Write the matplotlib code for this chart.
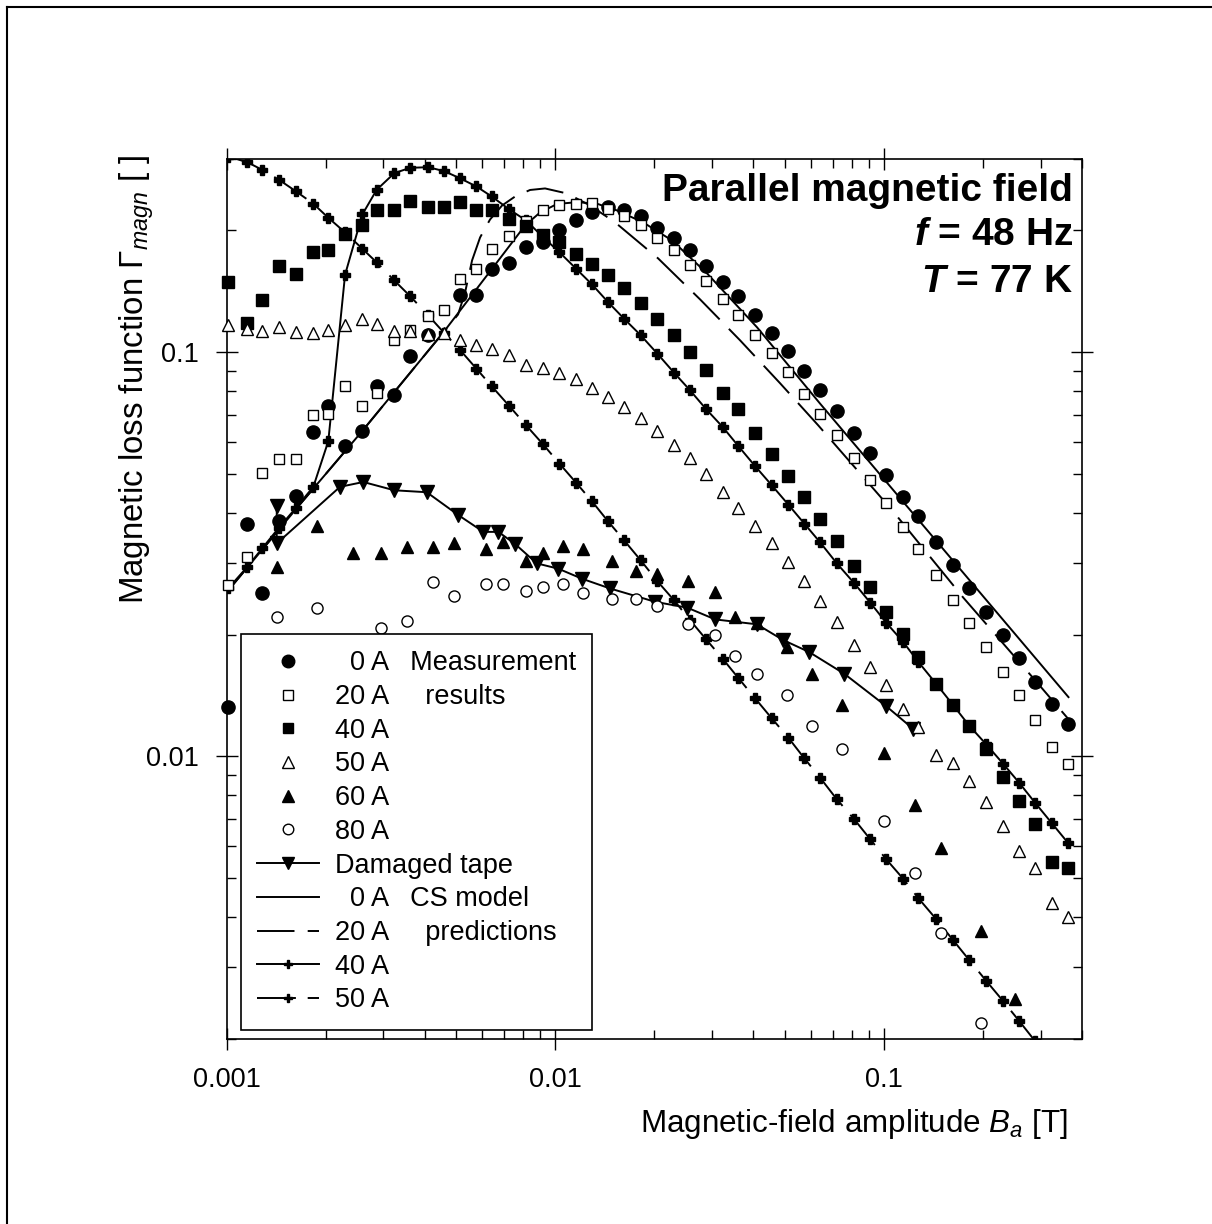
import numpy as np
import matplotlib
matplotlib.use("Agg")
import matplotlib.pyplot as plt
from matplotlib.lines import Line2D
from matplotlib.ticker import FixedLocator, FixedFormatter, LogLocator, NullFormatter

plt.rcParams['font.family'] = ['Liberation Sans', 'DejaVu Sans']
plt.rcParams['mathtext.fontset'] = 'custom'
plt.rcParams['mathtext.rm'] = 'Liberation Sans'
plt.rcParams['mathtext.it'] = 'Liberation Sans:italic'
plt.rcParams['mathtext.bf'] = 'Liberation Sans:bold:italic'
plt.rcParams['lines.scale_dashes'] = False

nan = np.nan

# ---- measured loss function, common field grid (T) ----
b_meas = [0.00101, 0.001155, 0.001283, 0.001443, 0.001622, 0.001835, 0.002038, 0.002292,
          0.002587, 0.002861, 0.003236, 0.003614, 0.004108, 0.004596, 0.005121, 0.005752,
          0.006406, 0.007248, 0.008149, 0.009181, 0.01029, 0.01157, 0.01294, 0.01448,
          0.0162, 0.01821, 0.02045, 0.02299, 0.02572, 0.02871, 0.03235, 0.03609, 0.04057,
          0.0456, 0.05124, 0.05731, 0.064, 0.07192, 0.08122, 0.09085, 0.1016, 0.1143,
          0.1274, 0.1443, 0.1622, 0.1818, 0.2048, 0.2303, 0.2582, 0.2888, 0.3247, 0.3646]

gamma_0A = [0.0132, 0.0376, 0.0253, 0.0382, 0.0441, 0.0634, 0.0734, 0.0585, 0.0637, 0.0824,
            0.0782, 0.0976, 0.110, nan, 0.1381, 0.1387, 0.1608, 0.1664, 0.1818, 0.1871,
            0.200, 0.2125, 0.2228, 0.228, 0.2241, 0.2166, 0.2031, 0.1914, 0.1785, 0.1632,
            0.149, 0.1373, 0.1232, 0.1114, 0.1006, 0.0898, 0.0804, 0.0715, 0.0631, 0.0564,
            0.0497, 0.0439, 0.0392, 0.0339, 0.0297, 0.0261, 0.0227, 0.0200, 0.0175, 0.0153,
            0.0135, 0.0120]

gamma_20A = [0.0265, 0.0311, 0.0503, 0.0543, 0.0543, 0.0697, 0.0704, 0.0823, 0.0734, 0.0792,
             0.1073, 0.1136, 0.1226, 0.1273, 0.1519, 0.1608, 0.1802, 0.1936, 0.2105, 0.2250,
             0.2306, 0.2329, 0.2336, 0.2263, 0.2166, 0.2058, 0.1914, 0.1785, 0.1645, 0.1498,
             0.1355, 0.1237, 0.1104, 0.0997, 0.0893, 0.0789, 0.0704, 0.0622, 0.0547, 0.0482,
             0.0424, 0.0369, 0.0326, 0.0280, 0.0243, 0.0213, 0.0186, 0.0162, 0.01416, 0.01227,
             0.01051, 0.00959]

gamma_40A = [0.149, 0.118, 0.1348, 0.1629, 0.1563, 0.1767, 0.1792, 0.1955, 0.2062, 0.2241,
             0.2241, 0.2363, 0.2284, 0.2284, 0.2346, 0.2250, 0.2250, 0.2138, 0.2046, 0.1944,
             0.1871, 0.1751, 0.1654, 0.1554, 0.1440, 0.1325, 0.1205, 0.1104, 0.1000, 0.0901,
             0.0794, 0.0721, 0.0630, 0.0561, 0.0493, 0.0438, 0.0387, 0.0341, 0.0296, 0.0262,
             0.0228, 0.0201, 0.0176, 0.0151, 0.0134, 0.0119, 0.0104, 0.00886, 0.00775, 0.00679,
             0.00546, 0.00528]

gamma_50A = [0.1169, 0.1138, 0.1127, 0.1153, 0.1121, 0.1117, 0.1136, 0.1169, 0.1205, 0.1176,
             0.1127, 0.1127, 0.1106, 0.1114, 0.1073, 0.1043, 0.1016, 0.0985, 0.0931, 0.0913,
             0.0887, 0.0860, 0.0815, 0.0774, 0.0731, 0.0688, 0.0637, 0.0590, 0.0547, 0.0498,
             0.0450, 0.0412, 0.0371, 0.0336, 0.0302, 0.0271, 0.0242, 0.0215, 0.0188, 0.0166,
             0.0150, 0.0131, 0.0118, 0.01006, 0.00962, 0.00869, 0.00768, 0.00672, 0.00583,
             0.00529, 0.00432, 0.00399]

# ---- higher transport currents, second field grid (T) ----
b_high = [0.00142, 0.001879, 0.002429, 0.002949, 0.003531, 0.004254, 0.00493, 0.006158,
          0.006936, 0.008149, 0.009201, 0.01054, 0.01218, 0.01492, 0.01762, 0.02037, 0.02542,
          0.03066, 0.03526, 0.04106, 0.05067, 0.06061, 0.07482, 0.0999, 0.1245, 0.1491,
          0.1978, 0.2510]

gamma_60A = [0.0294, 0.0371, 0.0319, 0.0319, 0.0329, 0.0329, 0.0337, 0.0325, 0.0338, 0.0304,
             0.0319, 0.0331, 0.0326, 0.0304, 0.0287, 0.0283, 0.0272, 0.0255, 0.0221, 0.0214,
             0.0186, 0.0160, 0.0134, 0.0102, 0.00756, 0.00593, 0.00370, 0.00250]

gamma_80A = [0.0221, 0.0233, nan, 0.0208, 0.0216, 0.0270, 0.0249, 0.0267, 0.0266, 0.0257,
             0.0262, 0.0266, 0.0253, 0.0245, 0.0245, 0.0235, 0.0212, 0.0200, 0.0177, 0.0160,
             0.0142, 0.0119, 0.0104, 0.00690, 0.00514, 0.00366, 0.00219, nan]

# ---- damaged tape ----
b_damaged = [0.00142, 0.00142, 0.002212, 0.002605, 0.003236, 0.004062, 0.00507, 0.006042,
             0.006711, 0.007545, 0.008785, 0.01022, 0.01204, 0.01468, 0.02013, 0.02524,
             0.03066, 0.04106, 0.04926, 0.05924, 0.0757, 0.1016, 0.1225]
gamma_damaged = [0.0416, 0.0336, 0.0464, 0.0477, 0.0455, 0.0450, 0.0395, 0.0359, 0.0359,
                 0.0335, 0.0300, 0.0291, 0.0275, 0.0260, 0.0241, 0.0233, 0.0218, 0.0212,
                 0.0194, 0.0181, 0.0160, 0.0133, 0.0117]

# ---- critical-state model predictions ----
b_cs0 = [0.00101, 0.001671, 0.002582, 0.004565, 0.006466, 0.008092, 0.008989, 0.01013,
         0.01165, 0.0134, 0.01542, 0.01851, 0.02267, 0.02898, 0.04114, 0.064, 0.3646]
gamma_cs0 = [0.0257, 0.0420, 0.0637, 0.1119, 0.1620, 0.2058, 0.2216, 0.2326, 0.2350, 0.2329,
             0.2241, 0.2094, 0.1889, 0.1565, 0.1151, 0.0745, 0.0140]

b_cs20 = [0.00101, 0.001671, 0.002582, 0.004565, 0.00506, 0.005314, 0.005581, 0.005904,
          0.00633, 0.006888, 0.007545, 0.008381, 0.009309, 0.01086, 0.01276, 0.01521,
          0.02055, 0.02759, 0.03652, 0.04834, 0.0631, 0.106, 0.1743, 0.2888, 0.3692]
gamma_cs20 = [0.0257, 0.0420, 0.0637, 0.1119, 0.1239, 0.1405, 0.1686, 0.1922, 0.2129, 0.2306,
              0.2427, 0.2519, 0.2541, 0.2469, 0.2306, 0.2094, 0.1706, 0.1350, 0.1069, 0.0837,
              0.0659, 0.0406, 0.0247, 0.0154, 0.0122]

gamma_cs40 = [0.0260, 0.0294, 0.0327, 0.0368, 0.0411, 0.0464, 0.0602, 0.1554, 0.2191, 0.2522,
              0.2772, 0.2858, 0.2868, 0.2803, 0.2694, 0.2570, 0.2427, 0.2254, 0.2117, 0.1925,
              0.1767, 0.1608, 0.1470, 0.1329, 0.1209, 0.1100, 0.0991, 0.0889, 0.0804, 0.0724,
              0.0652, 0.0585, 0.0522, 0.0468, 0.0419, 0.0376, 0.0338, 0.0300, 0.0268, 0.0240,
              0.0214, 0.0192, 0.0171, 0.0151, 0.0134, 0.0119, 0.0107, 0.00959, 0.00859,
              0.00766, 0.00682, 0.00608]

gamma_cs50 = [0.3048, 0.2951, 0.2825, 0.2669, 0.2502, 0.2329, 0.2150, 0.1978, 0.1802, 0.1667,
              0.1504, 0.1376, 0.1232, 0.1114, 0.1014, 0.0910, 0.0823, 0.0735, 0.0659, 0.0591,
              0.0530, 0.0475, 0.0427, 0.0381, 0.0342, 0.0305, 0.0271, 0.0243, 0.0217, 0.0195,
              0.0174, 0.0156, 0.0139, 0.0124, 0.0111, 0.00987, 0.00884, 0.00782, 0.00698,
              0.00623, 0.00556, 0.00498, 0.00445, 0.00395, 0.00351, 0.00313, 0.00278, 0.00248,
              0.00221, 0.00197]

x_ticks = [0.001, 0.01, 0.1]
x_ticklabels = ['0.001', '0.01', '0.1']
y_ticks = [0.01, 0.1]
y_ticklabels = ['0.01', '0.1']

FS = 19.5
LW = 1.4

fig = plt.figure(figsize=(12.12, 12.24), dpi=100)
ax = fig.add_axes([0.18705, 0.15147, 0.70545, 0.71838])
ax.set_xscale('log')
ax.set_yscale('log')
ax.set_xlim(0.001, 0.4)
ax.set_ylim(0.002, 0.3)

# model curves and damaged tape
h_cs0, = ax.plot(b_cs0, gamma_cs0, color='k', lw=LW, zorder=2)
h_cs20, = ax.plot(b_cs20, gamma_cs20, color='k', lw=LW, dashes=(27, 9.5), zorder=2)
h_cs40, = ax.plot(b_meas, gamma_cs40, color='k', lw=LW, marker='P', ms=6.5,
                  mfc='k', mec='k', zorder=2)
h_cs50, = ax.plot(b_meas[:50], gamma_cs50, color='k', lw=LW, dashes=(28, 8.5),
                  marker='P', ms=6.5, mfc='k', mec='k', zorder=2)
h_dam, = ax.plot(b_damaged, gamma_damaged, color='k', lw=LW, marker='v', ms=9.5,
                 mfc='k', mec='k', zorder=3)

# measured points
h_0, = ax.plot(b_meas, gamma_0A, ls='none', marker='o', ms=9.5, mfc='k', mec='k',
               clip_on=False, zorder=4)
h_20, = ax.plot(b_meas, gamma_20A, ls='none', marker='s', ms=7.8, mfc='white', mec='k',
                mew=1.0, clip_on=False, zorder=4)
h_40, = ax.plot(b_meas, gamma_40A, ls='none', marker='s', ms=8.2, mfc='k', mec='k',
                clip_on=False, zorder=4)
h_50, = ax.plot(b_meas, gamma_50A, ls='none', marker='^', ms=8.8, mfc='white', mec='k',
                mew=1.0, clip_on=False, zorder=4)
h_60, = ax.plot(b_high, gamma_60A, ls='none', marker='^', ms=8.8, mfc='k', mec='k',
                clip_on=False, zorder=4)
h_80, = ax.plot(b_high, gamma_80A, ls='none', marker='o', ms=8.0, mfc='white', mec='k',
                mew=1.0, clip_on=False, zorder=4)

# axes styling
for sp in ax.spines.values():
    sp.set_linewidth(1.2)
ax.xaxis.set_major_locator(FixedLocator(x_ticks))
ax.xaxis.set_major_formatter(FixedFormatter(x_ticklabels))
ax.yaxis.set_major_locator(FixedLocator(y_ticks))
ax.yaxis.set_major_formatter(FixedFormatter(y_ticklabels))
ax.xaxis.set_minor_locator(LogLocator(base=10, subs=np.arange(2, 10)))
ax.yaxis.set_minor_locator(LogLocator(base=10, subs=np.arange(2, 10)))
ax.xaxis.set_minor_formatter(NullFormatter())
ax.yaxis.set_minor_formatter(NullFormatter())
ax.tick_params(which='major', direction='inout', length=16.5, width=1.0,
               top=True, right=True, labelsize=FS, pad=12)
ax.tick_params(which='minor', direction='in', length=6.5, width=1.0,
               top=True, right=True)

# legend
handles = [h_0, h_20, h_40, h_50, h_60, h_80, h_dam, h_cs0, h_cs20, h_cs40, h_cs50]
labels = ['  0 A   Measurement', '20 A     results', '40 A', '50 A', '60 A', '80 A',
          'Damaged tape', '  0 A   CS model', '20 A     predictions', '40 A', '50 A']
leg = ax.legend(handles, labels, loc='upper left', bbox_to_anchor=(0.0167, 0.4601),
                borderaxespad=0, frameon=True, fancybox=False, edgecolor='k',
                framealpha=1, fontsize=FS, handlelength=2.28, handletextpad=0.58,
                borderpad=0.6, labelspacing=0.285, markerscale=0.95)
leg.get_frame().set_linewidth(1.2)
leg.set_zorder(6)

# condition annotations
tx = 0.9898
ax.text(tx, 0.9526, 'Parallel magnetic field', transform=ax.transAxes, ha='right',
        va='baseline', fontsize=28, fontweight='bold', zorder=7)
ax.text(tx, 0.9025, r'$\mathbf{f}$ = 48 Hz', transform=ax.transAxes, ha='right',
        va='baseline', fontsize=28, fontweight='bold', zorder=7)
ax.text(tx, 0.8494, r'$\mathbf{T}$ = 77 K', transform=ax.transAxes, ha='right',
        va='baseline', fontsize=28, fontweight='bold', zorder=7)

# axis titles
fig.text(1068 / 1212, 1 - 1132 / 1224, 'Magnetic-field amplitude $B_a$ [T]',
         ha='right', va='baseline', fontsize=22.6)
fig.text(137 / 1212, 1 - 155 / 1224, 'Magnetic loss function Γ$_{magn}$ [ ]',
         rotation=90, ha='center', va='top', fontsize=23.8)

# outer frame (top and left edges)
fig.add_artist(Line2D([7 / 1212, 1], [1 - 7 / 1224, 1 - 7 / 1224],
                      transform=fig.transFigure, color='k', lw=1.5))
fig.add_artist(Line2D([7 / 1212, 7 / 1212], [0, 1 - 7 / 1224],
                      transform=fig.transFigure, color='k', lw=1.5))

fig.savefig('out.png', dpi=100)
